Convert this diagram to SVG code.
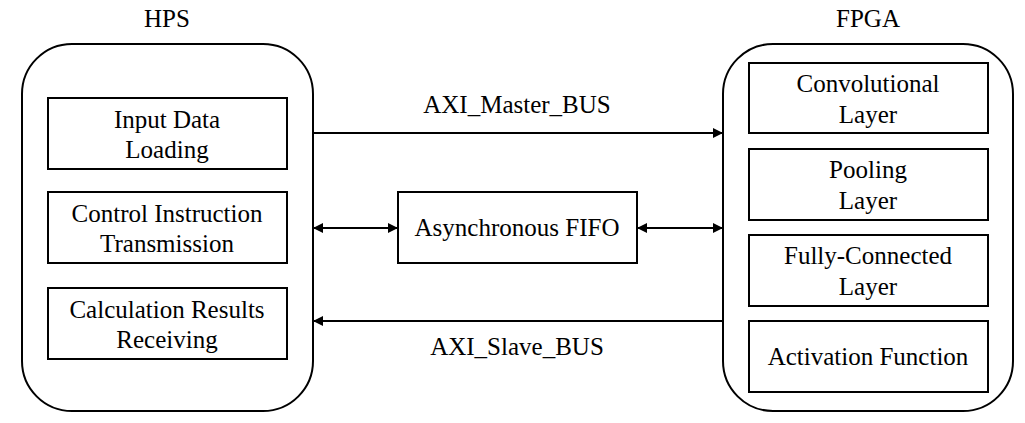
<svg xmlns="http://www.w3.org/2000/svg" width="1025" height="423" viewBox="0 0 1025 423">
<style>
text{font-family:"Liberation Serif","Times New Roman",serif;font-size:25px;fill:#000;text-anchor:middle}
.outer{fill:#fff;stroke:#000;stroke-width:2}
.box{fill:#fff;stroke:#000;stroke-width:2}
.conn{stroke:#000;stroke-width:2;fill:none}
</style>
<defs>
<marker id="ah" viewBox="0 0 10 10" refX="10" refY="5" markerWidth="10" markerHeight="10" markerUnits="userSpaceOnUse" orient="auto-start-reverse">
<path d="M0,0 L10,5 L0,10 Z" fill="#000"/>
</marker>
</defs>
<rect width="1025" height="423" fill="#fff"/>
<g id="hps">
<text x="167" y="27">HPS</text>
<rect class="outer" x="22" y="44" width="291" height="367" rx="50" ry="50"/>
</g>
<g id="input-data">
<rect class="box" x="48" y="98" width="239" height="71"/>
<text x="167" y="128">Input Data</text>
<text x="167" y="158">Loading</text>
</g>
<g id="control">
<rect class="box" x="48" y="192" width="239" height="71"/>
<text x="167" y="222">Control Instruction</text>
<text x="167" y="252">Transmission</text>
</g>
<g id="results">
<rect class="box" x="48" y="288" width="239" height="71"/>
<text x="167" y="318">Calculation Results</text>
<text x="167" y="348">Receiving</text>
</g>
<g id="fpga">
<text x="868" y="27">FPGA</text>
<rect class="outer" x="723" y="44" width="290" height="367" rx="50" ry="50"/>
</g>
<g id="conv">
<rect class="box" x="749" y="63" width="239" height="70"/>
<text x="868" y="92">Convolutional</text>
<text x="868" y="123">Layer</text>
</g>
<g id="pool">
<rect class="box" x="749" y="149" width="239" height="71"/>
<text x="868" y="178">Pooling</text>
<text x="868" y="209">Layer</text>
</g>
<g id="fc">
<rect class="box" x="749" y="235" width="239" height="71"/>
<text x="868" y="264">Fully-Connected</text>
<text x="868" y="295">Layer</text>
</g>
<g id="act">
<rect class="box" x="749" y="321" width="239" height="71"/>
<text x="868" y="365">Activation Function</text>
</g>
<g id="fifo">
<rect class="box" x="398" y="192" width="239" height="71"/>
<text x="517" y="236">Asynchronous FIFO</text>
</g>
<g id="connectors">
<line class="conn" x1="313" y1="133" x2="723" y2="133" marker-end="url(#ah)"/>
<line class="conn" x1="313" y1="228" x2="398" y2="228" marker-start="url(#ah)" marker-end="url(#ah)"/>
<line class="conn" x1="637" y1="228" x2="723" y2="228" marker-start="url(#ah)" marker-end="url(#ah)"/>
<line class="conn" x1="723" y1="321" x2="313" y2="321" marker-end="url(#ah)"/>
<text x="517" y="113">AXI_Master_BUS</text>
<text x="517" y="355">AXI_Slave_BUS</text>
</g>
</svg>
